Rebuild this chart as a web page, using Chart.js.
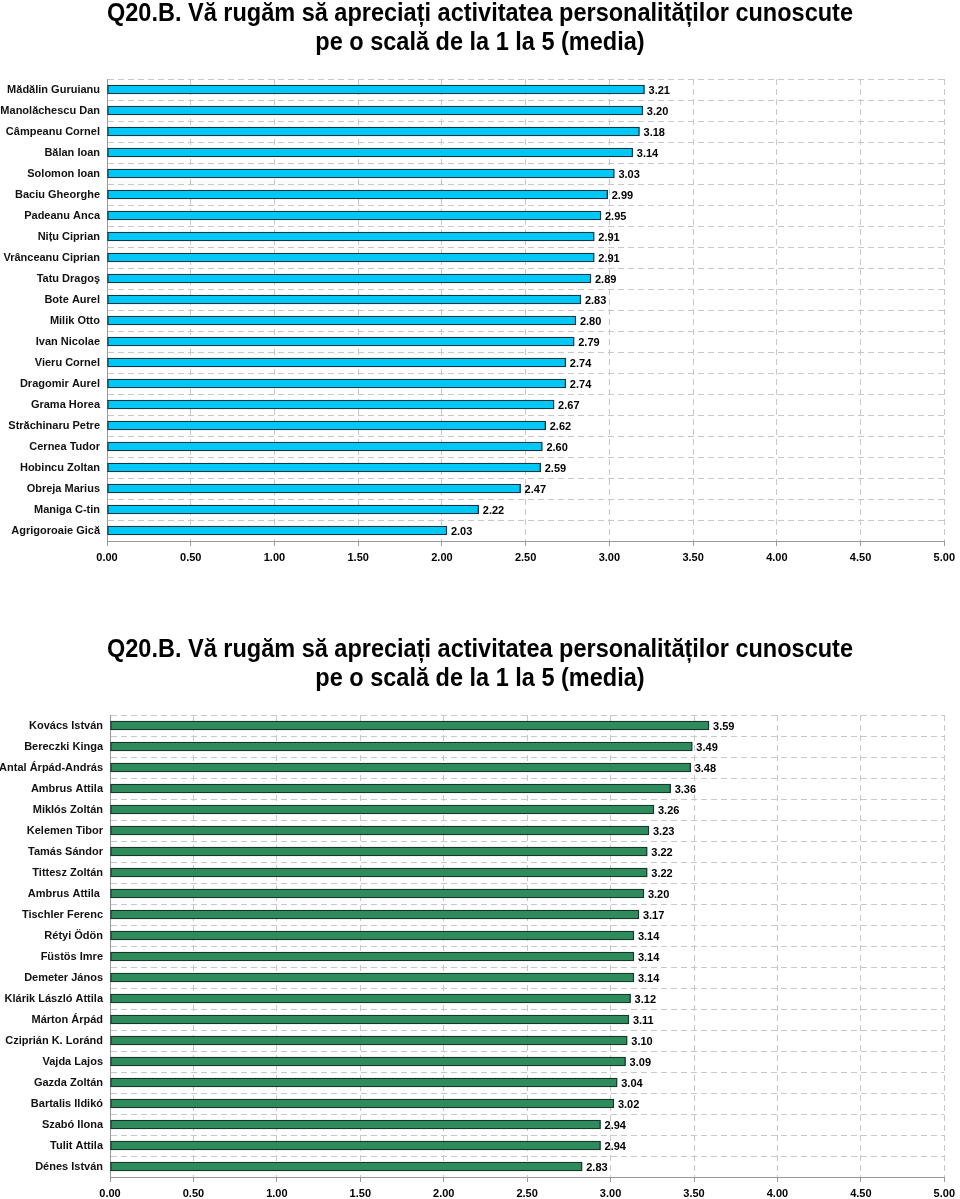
<!DOCTYPE html>
<html>
<head>
<meta charset="utf-8">
<script src="https://cdn.jsdelivr.net/npm/chart.js@4/dist/chart.umd.min.js"></script>
<style>
  html, body { margin: 0; padding: 0; background: #fff; }
  body { width: 960px; height: 1199px; position: relative; overflow: hidden; }
  .box { position: absolute; left: 0; width: 960px; }
</style>
</head>
<body>
<div class="box" style="top:0;height:582px;"><canvas id="c1"></canvas></div>
<div class="box" style="top:636px;height:582px;"><canvas id="c2"></canvas></div>
<script>
const titleLines = ["Q20.B. Vă rugăm să apreciați activitatea personalităților cunoscute", "pe o scală de la 1 la 5 (media)"];

const categories1 = ["Mădălin Guruianu","Manolăchescu Dan","Câmpeanu Cornel","Bălan Ioan","Solomon Ioan","Baciu Gheorghe","Padeanu Anca","Nițu Ciprian","Vrânceanu Ciprian","Tatu Dragoş","Bote Aurel","Milik Otto","Ivan Nicolae","Vieru Cornel","Dragomir Aurel","Grama Horea","Străchinaru Petre","Cernea Tudor","Hobincu Zoltan","Obreja Marius","Maniga C-tin","Agrigoroaie Gică"];
const values1 = [3.21,3.20,3.18,3.14,3.03,2.99,2.95,2.91,2.91,2.89,2.83,2.80,2.79,2.74,2.74,2.67,2.62,2.60,2.59,2.47,2.22,2.03];

const categories2 = ["Kovács István","Bereczki Kinga","Antal Árpád-András","Ambrus Attila","Miklós Zoltán","Kelemen Tibor","Tamás Sándor","Tittesz Zoltán","Ambrus Attila ","Tischler Ferenc","Rétyi Ödön","Füstös Imre","Demeter János","Klárik László Attila","Márton Árpád","Cziprián K. Loránd","Vajda Lajos","Gazda Zoltán","Bartalis Ildikó","Szabó Ilona","Tulit Attila","Dénes István"];
const values2 = [3.59,3.49,3.48,3.36,3.26,3.23,3.22,3.22,3.20,3.17,3.14,3.14,3.14,3.12,3.11,3.10,3.09,3.04,3.02,2.94,2.94,2.83];

const xTicks = [0,0.5,1,1.5,2,2.5,3,3.5,4,4.5,5];

const valueLabels = {
  id: 'valueLabels',
  afterDatasetsDraw(chart) {
    const ctx = chart.ctx;
    const meta = chart.getDatasetMeta(0);
    const data = chart.data.datasets[0].data;
    ctx.save();
    ctx.font = 'bold 11px "Liberation Sans", Arial, sans-serif';
    ctx.fillStyle = '#000';
    ctx.textAlign = 'left';
    ctx.textBaseline = 'middle';
    meta.data.forEach((bar, i) => {
      ctx.fillText(Number(data[i]).toFixed(2), bar.x + 4, bar.y + 1);
    });
    ctx.restore();
  }
};

// condensed bold title drawn as real canvas text
const condensedTitle = {
  id: 'condensedTitle',
  afterDraw(chart) {
    const ctx = chart.ctx;
    ctx.save();
    ctx.font = 'bold 25px "Liberation Sans", Arial, sans-serif';
    ctx.fillStyle = '#000';
    ctx.textBaseline = 'alphabetic';
    ctx.textAlign = 'center';
    const w1 = ctx.measureText(titleLines[0]).width;
    const sx = 746 / w1;
    [[titleLines[0], 21], [titleLines[1], 50]].forEach(([t, y]) => {
      ctx.save();
      ctx.translate(480, y);
      ctx.scale(sx, 1);
      ctx.fillText(t, 0, 0);
      ctx.restore();
    });
    ctx.restore();
  }
};

function makeChart(id, cats, vals, fill, border, axisLeft) {
  return new Chart(document.getElementById(id), {
    type: 'bar',
    data: {
      labels: cats,
      datasets: [{
        data: vals,
        backgroundColor: fill,
        borderColor: border,
        borderWidth: 1.4,
        borderSkipped: false,
        barThickness: 9
      }]
    },
    options: {
      indexAxis: 'y',
      responsive: true,
      maintainAspectRatio: false,
      animation: false,
      layout: { padding: { left: 0, right: 13, top: 79, bottom: 0 } },
      plugins: {
        legend: { display: false },
        tooltip: { enabled: false },
        title: { display: false }
      },
      scales: {
        x: {
          type: 'linear',
          min: 0, max: 5,
          afterBuildTicks(scale) { scale.ticks = xTicks.map(v => ({ value: v })); },
          afterFit(scale) { scale.height = 41; },
          ticks: {
            callback: v => Number(v).toFixed(2),
            color: '#000',
            font: { family: '"Liberation Sans", Arial, sans-serif', size: 11, weight: 'bold' },
            padding: 5,
            maxRotation: 0,
            autoSkip: false
          },
          grid: {
            color: '#c8c8c8',
            lineWidth: 1,
            tickLength: 5,
            tickColor: '#999',
            tickBorderDash: [],
            tickWidth: 1
          },
          border: { display: true, color: '#999', width: 1, dash: [6, 4] }
        },
        y: {
          afterFit(scale) { scale.width = axisLeft; },
          ticks: {
            color: '#111',
            font: { family: '"Liberation Sans", Arial, sans-serif', size: 11, weight: 'bold' },
            padding: 7,
            autoSkip: false
          },
          grid: {
            color: '#c8c8c8',
            lineWidth: 1,
            drawTicks: false,
            offset: true
          },
          border: { display: true, color: '#999', width: 1, dash: [6, 4] }
        }
      }
    },
    plugins: [valueLabels, condensedTitle]
  });
}

makeChart('c1', categories1, values1, '#00c8f5', '#173545', 107);
makeChart('c2', categories2, values2, '#2e8b5c', '#17352a', 110);
</script>
</body>
</html>
